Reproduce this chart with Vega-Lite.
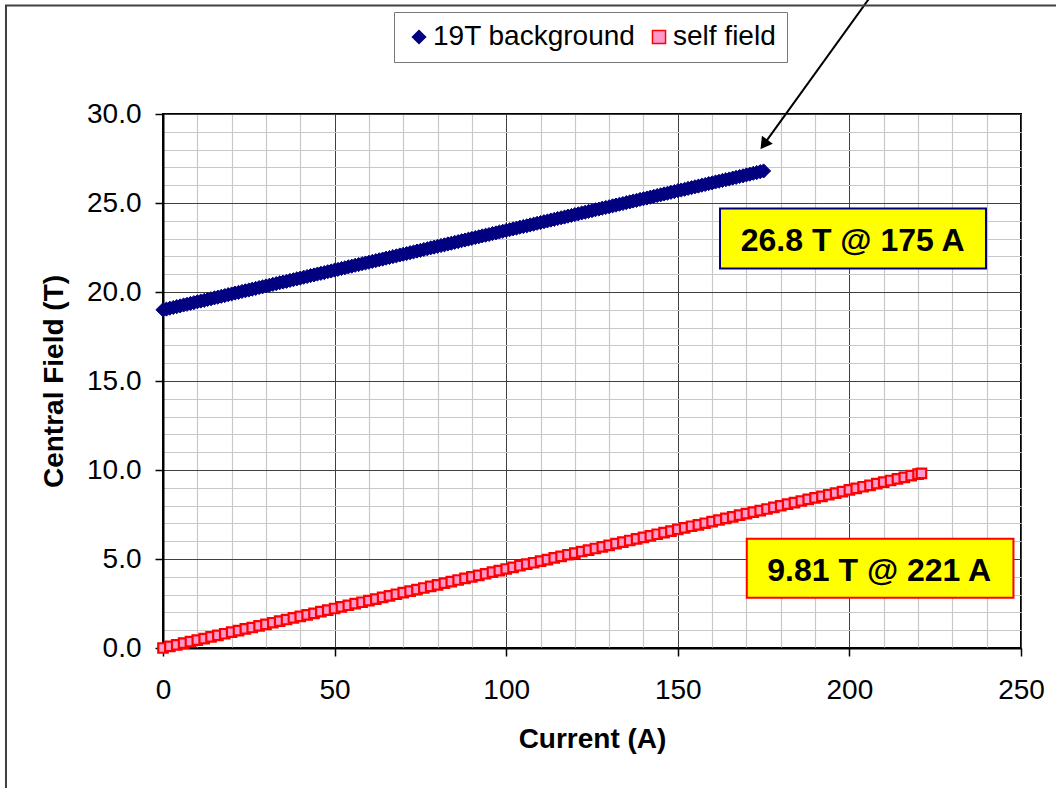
{
  "$schema": "https://vega.github.io/schema/vega-lite/v6.json",
  "width": 858,
  "height": 534,
  "autosize": "none",
  "padding": {"left": 163, "top": 114, "right": 35, "bottom": 140},
  "background": "#ffffff",
  "config": {
    "view": {"stroke": "#000000", "strokeWidth": 2},
    "font": "Liberation Sans",
    "legend": {
      "orient": "none",
      "legendX": 231,
      "legendY": -102,
      "direction": "horizontal",
      "strokeColor": "#777777",
      "strokeWidth": 1,
      "fillColor": "#ffffff",
      "padding": 11,
      "labelFont": "Liberation Sans",
      "labelFontSize": 28,
      "labelColor": "#000000",
      "labelLimit": 400,
      "labelOffset": 0,
      "columnPadding": 9,
      "symbolSize": 170,
      "symbolStrokeWidth": 1.5,
      "title": null
    }
  },
  "datasets": {
    "bg": [
      {"I":0,"B":19.00,"s":"19T background"},{"I":1,"B":19.04,"s":"19T background"},{"I":2,"B":19.09,"s":"19T background"},{"I":3,"B":19.13,"s":"19T background"},{"I":4,"B":19.18,"s":"19T background"},{"I":5,"B":19.22,"s":"19T background"},{"I":6,"B":19.27,"s":"19T background"},{"I":7,"B":19.31,"s":"19T background"},{"I":8,"B":19.36,"s":"19T background"},{"I":9,"B":19.40,"s":"19T background"},
      {"I":10,"B":19.45,"s":"19T background"},{"I":11,"B":19.49,"s":"19T background"},{"I":12,"B":19.53,"s":"19T background"},{"I":13,"B":19.58,"s":"19T background"},{"I":14,"B":19.62,"s":"19T background"},{"I":15,"B":19.67,"s":"19T background"},{"I":16,"B":19.71,"s":"19T background"},{"I":17,"B":19.76,"s":"19T background"},{"I":18,"B":19.80,"s":"19T background"},{"I":19,"B":19.85,"s":"19T background"},
      {"I":20,"B":19.89,"s":"19T background"},{"I":21,"B":19.94,"s":"19T background"},{"I":22,"B":19.98,"s":"19T background"},{"I":23,"B":20.03,"s":"19T background"},{"I":24,"B":20.07,"s":"19T background"},{"I":25,"B":20.11,"s":"19T background"},{"I":26,"B":20.16,"s":"19T background"},{"I":27,"B":20.20,"s":"19T background"},{"I":28,"B":20.25,"s":"19T background"},{"I":29,"B":20.29,"s":"19T background"},
      {"I":30,"B":20.34,"s":"19T background"},{"I":31,"B":20.38,"s":"19T background"},{"I":32,"B":20.43,"s":"19T background"},{"I":33,"B":20.47,"s":"19T background"},{"I":34,"B":20.52,"s":"19T background"},{"I":35,"B":20.56,"s":"19T background"},{"I":36,"B":20.60,"s":"19T background"},{"I":37,"B":20.65,"s":"19T background"},{"I":38,"B":20.69,"s":"19T background"},{"I":39,"B":20.74,"s":"19T background"},
      {"I":40,"B":20.78,"s":"19T background"},{"I":41,"B":20.83,"s":"19T background"},{"I":42,"B":20.87,"s":"19T background"},{"I":43,"B":20.92,"s":"19T background"},{"I":44,"B":20.96,"s":"19T background"},{"I":45,"B":21.01,"s":"19T background"},{"I":46,"B":21.05,"s":"19T background"},{"I":47,"B":21.09,"s":"19T background"},{"I":48,"B":21.14,"s":"19T background"},{"I":49,"B":21.18,"s":"19T background"},
      {"I":50,"B":21.23,"s":"19T background"},{"I":51,"B":21.27,"s":"19T background"},{"I":52,"B":21.32,"s":"19T background"},{"I":53,"B":21.36,"s":"19T background"},{"I":54,"B":21.41,"s":"19T background"},{"I":55,"B":21.45,"s":"19T background"},{"I":56,"B":21.50,"s":"19T background"},{"I":57,"B":21.54,"s":"19T background"},{"I":58,"B":21.59,"s":"19T background"},{"I":59,"B":21.63,"s":"19T background"},
      {"I":60,"B":21.67,"s":"19T background"},{"I":61,"B":21.72,"s":"19T background"},{"I":62,"B":21.76,"s":"19T background"},{"I":63,"B":21.81,"s":"19T background"},{"I":64,"B":21.85,"s":"19T background"},{"I":65,"B":21.90,"s":"19T background"},{"I":66,"B":21.94,"s":"19T background"},{"I":67,"B":21.99,"s":"19T background"},{"I":68,"B":22.03,"s":"19T background"},{"I":69,"B":22.08,"s":"19T background"},
      {"I":70,"B":22.12,"s":"19T background"},{"I":71,"B":22.16,"s":"19T background"},{"I":72,"B":22.21,"s":"19T background"},{"I":73,"B":22.25,"s":"19T background"},{"I":74,"B":22.30,"s":"19T background"},{"I":75,"B":22.34,"s":"19T background"},{"I":76,"B":22.39,"s":"19T background"},{"I":77,"B":22.43,"s":"19T background"},{"I":78,"B":22.48,"s":"19T background"},{"I":79,"B":22.52,"s":"19T background"},
      {"I":80,"B":22.57,"s":"19T background"},{"I":81,"B":22.61,"s":"19T background"},{"I":82,"B":22.65,"s":"19T background"},{"I":83,"B":22.70,"s":"19T background"},{"I":84,"B":22.74,"s":"19T background"},{"I":85,"B":22.79,"s":"19T background"},{"I":86,"B":22.83,"s":"19T background"},{"I":87,"B":22.88,"s":"19T background"},{"I":88,"B":22.92,"s":"19T background"},{"I":89,"B":22.97,"s":"19T background"},
      {"I":90,"B":23.01,"s":"19T background"},{"I":91,"B":23.06,"s":"19T background"},{"I":92,"B":23.10,"s":"19T background"},{"I":93,"B":23.15,"s":"19T background"},{"I":94,"B":23.19,"s":"19T background"},{"I":95,"B":23.23,"s":"19T background"},{"I":96,"B":23.28,"s":"19T background"},{"I":97,"B":23.32,"s":"19T background"},{"I":98,"B":23.37,"s":"19T background"},{"I":99,"B":23.41,"s":"19T background"},
      {"I":100,"B":23.46,"s":"19T background"},{"I":101,"B":23.50,"s":"19T background"},{"I":102,"B":23.55,"s":"19T background"},{"I":103,"B":23.59,"s":"19T background"},{"I":104,"B":23.64,"s":"19T background"},{"I":105,"B":23.68,"s":"19T background"},{"I":106,"B":23.72,"s":"19T background"},{"I":107,"B":23.77,"s":"19T background"},{"I":108,"B":23.81,"s":"19T background"},{"I":109,"B":23.86,"s":"19T background"},
      {"I":110,"B":23.90,"s":"19T background"},{"I":111,"B":23.95,"s":"19T background"},{"I":112,"B":23.99,"s":"19T background"},{"I":113,"B":24.04,"s":"19T background"},{"I":114,"B":24.08,"s":"19T background"},{"I":115,"B":24.13,"s":"19T background"},{"I":116,"B":24.17,"s":"19T background"},{"I":117,"B":24.21,"s":"19T background"},{"I":118,"B":24.26,"s":"19T background"},{"I":119,"B":24.30,"s":"19T background"},
      {"I":120,"B":24.35,"s":"19T background"},{"I":121,"B":24.39,"s":"19T background"},{"I":122,"B":24.44,"s":"19T background"},{"I":123,"B":24.48,"s":"19T background"},{"I":124,"B":24.53,"s":"19T background"},{"I":125,"B":24.57,"s":"19T background"},{"I":126,"B":24.62,"s":"19T background"},{"I":127,"B":24.66,"s":"19T background"},{"I":128,"B":24.71,"s":"19T background"},{"I":129,"B":24.75,"s":"19T background"},
      {"I":130,"B":24.79,"s":"19T background"},{"I":131,"B":24.84,"s":"19T background"},{"I":132,"B":24.88,"s":"19T background"},{"I":133,"B":24.93,"s":"19T background"},{"I":134,"B":24.97,"s":"19T background"},{"I":135,"B":25.02,"s":"19T background"},{"I":136,"B":25.06,"s":"19T background"},{"I":137,"B":25.11,"s":"19T background"},{"I":138,"B":25.15,"s":"19T background"},{"I":139,"B":25.20,"s":"19T background"},
      {"I":140,"B":25.24,"s":"19T background"},{"I":141,"B":25.28,"s":"19T background"},{"I":142,"B":25.33,"s":"19T background"},{"I":143,"B":25.37,"s":"19T background"},{"I":144,"B":25.42,"s":"19T background"},{"I":145,"B":25.46,"s":"19T background"},{"I":146,"B":25.51,"s":"19T background"},{"I":147,"B":25.55,"s":"19T background"},{"I":148,"B":25.60,"s":"19T background"},{"I":149,"B":25.64,"s":"19T background"},
      {"I":150,"B":25.69,"s":"19T background"},{"I":151,"B":25.73,"s":"19T background"},{"I":152,"B":25.77,"s":"19T background"},{"I":153,"B":25.82,"s":"19T background"},{"I":154,"B":25.86,"s":"19T background"},{"I":155,"B":25.91,"s":"19T background"},{"I":156,"B":25.95,"s":"19T background"},{"I":157,"B":26.00,"s":"19T background"},{"I":158,"B":26.04,"s":"19T background"},{"I":159,"B":26.09,"s":"19T background"},
      {"I":160,"B":26.13,"s":"19T background"},{"I":161,"B":26.18,"s":"19T background"},{"I":162,"B":26.22,"s":"19T background"},{"I":163,"B":26.27,"s":"19T background"},{"I":164,"B":26.31,"s":"19T background"},{"I":165,"B":26.35,"s":"19T background"},{"I":166,"B":26.40,"s":"19T background"},{"I":167,"B":26.44,"s":"19T background"},{"I":168,"B":26.49,"s":"19T background"},{"I":169,"B":26.53,"s":"19T background"},
      {"I":170,"B":26.58,"s":"19T background"},{"I":171,"B":26.62,"s":"19T background"},{"I":172,"B":26.67,"s":"19T background"},{"I":173,"B":26.71,"s":"19T background"},{"I":174,"B":26.76,"s":"19T background"},{"I":175,"B":26.80,"s":"19T background"}
    ],
    "self": [
      {"I":0,"B":0.00,"s":"self field"},{"I":2,"B":0.09,"s":"self field"},{"I":4,"B":0.18,"s":"self field"},{"I":6,"B":0.27,"s":"self field"},{"I":8,"B":0.36,"s":"self field"},
      {"I":10,"B":0.44,"s":"self field"},{"I":12,"B":0.53,"s":"self field"},{"I":14,"B":0.62,"s":"self field"},{"I":16,"B":0.71,"s":"self field"},{"I":18,"B":0.80,"s":"self field"},
      {"I":20,"B":0.89,"s":"self field"},{"I":22,"B":0.98,"s":"self field"},{"I":24,"B":1.07,"s":"self field"},{"I":26,"B":1.15,"s":"self field"},{"I":28,"B":1.24,"s":"self field"},
      {"I":30,"B":1.33,"s":"self field"},{"I":32,"B":1.42,"s":"self field"},{"I":34,"B":1.51,"s":"self field"},{"I":36,"B":1.60,"s":"self field"},{"I":38,"B":1.69,"s":"self field"},
      {"I":40,"B":1.78,"s":"self field"},{"I":42,"B":1.86,"s":"self field"},{"I":44,"B":1.95,"s":"self field"},{"I":46,"B":2.04,"s":"self field"},{"I":48,"B":2.13,"s":"self field"},
      {"I":50,"B":2.22,"s":"self field"},{"I":52,"B":2.31,"s":"self field"},{"I":54,"B":2.40,"s":"self field"},{"I":56,"B":2.49,"s":"self field"},{"I":58,"B":2.57,"s":"self field"},
      {"I":60,"B":2.66,"s":"self field"},{"I":62,"B":2.75,"s":"self field"},{"I":64,"B":2.84,"s":"self field"},{"I":66,"B":2.93,"s":"self field"},{"I":68,"B":3.02,"s":"self field"},
      {"I":70,"B":3.11,"s":"self field"},{"I":72,"B":3.20,"s":"self field"},{"I":74,"B":3.28,"s":"self field"},{"I":76,"B":3.37,"s":"self field"},{"I":78,"B":3.46,"s":"self field"},
      {"I":80,"B":3.55,"s":"self field"},{"I":82,"B":3.64,"s":"self field"},{"I":84,"B":3.73,"s":"self field"},{"I":86,"B":3.82,"s":"self field"},{"I":88,"B":3.91,"s":"self field"},
      {"I":90,"B":4.00,"s":"self field"},{"I":92,"B":4.08,"s":"self field"},{"I":94,"B":4.17,"s":"self field"},{"I":96,"B":4.26,"s":"self field"},{"I":98,"B":4.35,"s":"self field"},
      {"I":100,"B":4.44,"s":"self field"},{"I":102,"B":4.53,"s":"self field"},{"I":104,"B":4.62,"s":"self field"},{"I":106,"B":4.71,"s":"self field"},{"I":108,"B":4.79,"s":"self field"},
      {"I":110,"B":4.88,"s":"self field"},{"I":112,"B":4.97,"s":"self field"},{"I":114,"B":5.06,"s":"self field"},{"I":116,"B":5.15,"s":"self field"},{"I":118,"B":5.24,"s":"self field"},
      {"I":120,"B":5.33,"s":"self field"},{"I":122,"B":5.42,"s":"self field"},{"I":124,"B":5.50,"s":"self field"},{"I":126,"B":5.59,"s":"self field"},{"I":128,"B":5.68,"s":"self field"},
      {"I":130,"B":5.77,"s":"self field"},{"I":132,"B":5.86,"s":"self field"},{"I":134,"B":5.95,"s":"self field"},{"I":136,"B":6.04,"s":"self field"},{"I":138,"B":6.13,"s":"self field"},
      {"I":140,"B":6.21,"s":"self field"},{"I":142,"B":6.30,"s":"self field"},{"I":144,"B":6.39,"s":"self field"},{"I":146,"B":6.48,"s":"self field"},{"I":148,"B":6.57,"s":"self field"},
      {"I":150,"B":6.66,"s":"self field"},{"I":152,"B":6.75,"s":"self field"},{"I":154,"B":6.84,"s":"self field"},{"I":156,"B":6.92,"s":"self field"},{"I":158,"B":7.01,"s":"self field"},
      {"I":160,"B":7.10,"s":"self field"},{"I":162,"B":7.19,"s":"self field"},{"I":164,"B":7.28,"s":"self field"},{"I":166,"B":7.37,"s":"self field"},{"I":168,"B":7.46,"s":"self field"},
      {"I":170,"B":7.55,"s":"self field"},{"I":172,"B":7.63,"s":"self field"},{"I":174,"B":7.72,"s":"self field"},{"I":176,"B":7.81,"s":"self field"},{"I":178,"B":7.90,"s":"self field"},
      {"I":180,"B":7.99,"s":"self field"},{"I":182,"B":8.08,"s":"self field"},{"I":184,"B":8.17,"s":"self field"},{"I":186,"B":8.26,"s":"self field"},{"I":188,"B":8.35,"s":"self field"},
      {"I":190,"B":8.43,"s":"self field"},{"I":192,"B":8.52,"s":"self field"},{"I":194,"B":8.61,"s":"self field"},{"I":196,"B":8.70,"s":"self field"},{"I":198,"B":8.79,"s":"self field"},
      {"I":200,"B":8.88,"s":"self field"},{"I":202,"B":8.97,"s":"self field"},{"I":204,"B":9.06,"s":"self field"},{"I":206,"B":9.14,"s":"self field"},{"I":208,"B":9.23,"s":"self field"},
      {"I":210,"B":9.32,"s":"self field"},{"I":212,"B":9.41,"s":"self field"},{"I":214,"B":9.50,"s":"self field"},{"I":216,"B":9.59,"s":"self field"},{"I":218,"B":9.68,"s":"self field"},
      {"I":220,"B":9.77,"s":"self field"},{"I":221,"B":9.81,"s":"self field"}
    ],
    "one": [{}]
  },
  "resolve": {"axis": {"x": "independent", "y": "independent"}},
  "layer": [
    {
      "data": {"name": "bg"},
      "mark": {"type": "point", "filled": true, "opacity": 1, "size": 200, "strokeWidth": 1},
      "encoding": {
        "x": {"field": "I", "type": "quantitative", "scale": {"domain": [0, 250], "nice": false, "zero": false},
          "axis": {"orient": "top", "values": [10,20,30,40,60,70,80,90,110,120,130,140,160,170,180,190,210,220,230,240], "grid": true, "gridColor": "#c8c8c8", "gridWidth": 1.2, "domain": false, "ticks": false, "labels": false, "title": null}},
        "y": {"field": "B", "type": "quantitative", "scale": {"domain": [0, 30], "nice": false, "zero": false},
          "axis": {"orient": "right", "values": [1,2,3,4,6,7,8,9,11,12,13,14,16,17,18,19,21,22,23,24,26,27,28,29], "grid": true, "gridColor": "#c8c8c8", "gridWidth": 1.2, "domain": false, "ticks": false, "labels": false, "title": null}},
        "shape": {"field": "s", "type": "nominal", "scale": {"domain": ["19T background", "self field"], "range": ["diamond", "square"]}, "legend": {"title": null}},
        "fill": {"field": "s", "type": "nominal", "scale": {"domain": ["19T background", "self field"], "range": ["#000080", "#FF99CC"]}, "legend": {"title": null}},
        "stroke": {"field": "s", "type": "nominal", "scale": {"domain": ["19T background", "self field"], "range": ["#000080", "#FF0000"]}, "legend": {"title": null}}
      }
    },
    {
      "data": {"name": "self"},
      "mark": {"type": "point", "filled": true, "opacity": 1, "size": 90, "strokeWidth": 2.2},
      "encoding": {
        "x": {"field": "I", "type": "quantitative", "scale": {"domain": [0, 250], "nice": false, "zero": false},
          "axis": {"orient": "bottom", "values": [0,50,100,150,200,250], "grid": true, "gridColor": "#404040", "gridWidth": 1,
            "domain": true, "domainColor": "#000000", "domainWidth": 2, "ticks": true, "tickColor": "#000000", "tickSize": 8, "tickWidth": 1.5,
            "labelFont": "Liberation Sans", "labelFontSize": 28, "labelColor": "#000000", "labelPadding": 20, "labelFlush": false,
            "title": "Current (A)", "titleFont": "Liberation Sans", "titleFontSize": 28, "titleFontWeight": "bold", "titleColor": "#000000", "titlePadding": 21}},
        "y": {"field": "B", "type": "quantitative", "scale": {"domain": [0, 30], "nice": false, "zero": false},
          "axis": {"orient": "left", "values": [0,5,10,15,20,25,30], "format": ".1f", "grid": true, "gridColor": "#404040", "gridWidth": 1,
            "domain": true, "domainColor": "#000000", "domainWidth": 2, "ticks": true, "tickColor": "#000000", "tickSize": 8, "tickWidth": 1.5,
            "labelFont": "Liberation Sans", "labelFontSize": 28, "labelColor": "#000000", "labelPadding": 14, "labelFlush": false,
            "title": "Central Field (T)", "titleFont": "Liberation Sans", "titleFontSize": 28, "titleFontWeight": "bold", "titleColor": "#000000", "titlePadding": 18}},
        "shape": {"field": "s", "type": "nominal", "scale": {"domain": ["19T background", "self field"], "range": ["diamond", "square"]}, "legend": {"title": null}},
        "fill": {"field": "s", "type": "nominal", "scale": {"domain": ["19T background", "self field"], "range": ["#000080", "#FF99CC"]}, "legend": {"title": null}},
        "stroke": {"field": "s", "type": "nominal", "scale": {"domain": ["19T background", "self field"], "range": ["#000080", "#FF0000"]}, "legend": {"title": null}}
      }
    },
    {
      "data": {"name": "one"},
      "mark": {"type": "rect", "fill": "#FFFF00", "stroke": "#000080", "strokeWidth": 2},
      "encoding": {
        "x": {"datum": 162.3, "type": "quantitative", "scale": {"domain": [0, 250], "nice": false, "zero": false}, "axis": null},
        "x2": {"datum": 239.8},
        "y": {"datum": 24.69, "type": "quantitative", "scale": {"domain": [0, 30], "nice": false, "zero": false}, "axis": null},
        "y2": {"datum": 21.32}
      }
    },
    {
      "data": {"name": "one"},
      "mark": {"type": "text", "text": "26.8 T @ 175 A", "font": "Liberation Sans", "fontSize": 32, "fontWeight": "bold", "color": "#000000", "align": "center", "baseline": "middle"},
      "encoding": {
        "x": {"datum": 200.95, "type": "quantitative", "scale": {"domain": [0, 250], "nice": false, "zero": false}, "axis": null},
        "y": {"datum": 22.85, "type": "quantitative", "scale": {"domain": [0, 30], "nice": false, "zero": false}, "axis": null}
      }
    },
    {
      "data": {"name": "one"},
      "mark": {"type": "rect", "fill": "#FFFF00", "stroke": "#FF0000", "strokeWidth": 2},
      "encoding": {
        "x": {"datum": 170.1, "type": "quantitative", "scale": {"domain": [0, 250], "nice": false, "zero": false}, "axis": null},
        "x2": {"datum": 247.8},
        "y": {"datum": 6.14, "type": "quantitative", "scale": {"domain": [0, 30], "nice": false, "zero": false}, "axis": null},
        "y2": {"datum": 2.83}
      }
    },
    {
      "data": {"name": "one"},
      "mark": {"type": "text", "text": "9.81 T @ 221 A", "font": "Liberation Sans", "fontSize": 32, "fontWeight": "bold", "color": "#000000", "align": "center", "baseline": "middle"},
      "encoding": {
        "x": {"datum": 208.7, "type": "quantitative", "scale": {"domain": [0, 250], "nice": false, "zero": false}, "axis": null},
        "y": {"datum": 4.33, "type": "quantitative", "scale": {"domain": [0, 30], "nice": false, "zero": false}, "axis": null}
      }
    },
    {
      "data": {"name": "one"},
      "mark": {"type": "rule", "color": "#000000", "strokeWidth": 2},
      "encoding": {
        "x": {"datum": 207.4, "type": "quantitative", "scale": {"domain": [0, 250], "nice": false, "zero": false}, "axis": null},
        "x2": {"datum": 175.1},
        "y": {"datum": 36.93, "type": "quantitative", "scale": {"domain": [0, 30], "nice": false, "zero": false}, "axis": null},
        "y2": {"datum": 28.29}
      }
    },
    {
      "data": {"name": "one"},
      "mark": {"type": "point", "shape": "triangle-up", "filled": true, "opacity": 1, "color": "#000000", "size": 180, "angle": 216},
      "encoding": {
        "x": {"datum": 175.1, "type": "quantitative", "scale": {"domain": [0, 250], "nice": false, "zero": false}, "axis": null},
        "y": {"datum": 28.29, "type": "quantitative", "scale": {"domain": [0, 30], "nice": false, "zero": false}, "axis": null}
      }
    },
    {
      "data": {"name": "one"},
      "mark": {"type": "rect", "fillOpacity": 0, "stroke": "#404040", "strokeWidth": 2},
      "encoding": {
        "x": {"datum": -45.75, "type": "quantitative", "scale": {"domain": [0, 250], "nice": false, "zero": false}, "axis": null},
        "x2": {"datum": 265},
        "y": {"datum": 36.09, "type": "quantitative", "scale": {"domain": [0, 30], "nice": false, "zero": false}, "axis": null},
        "y2": {"datum": -10}
      }
    }
  ]
}
